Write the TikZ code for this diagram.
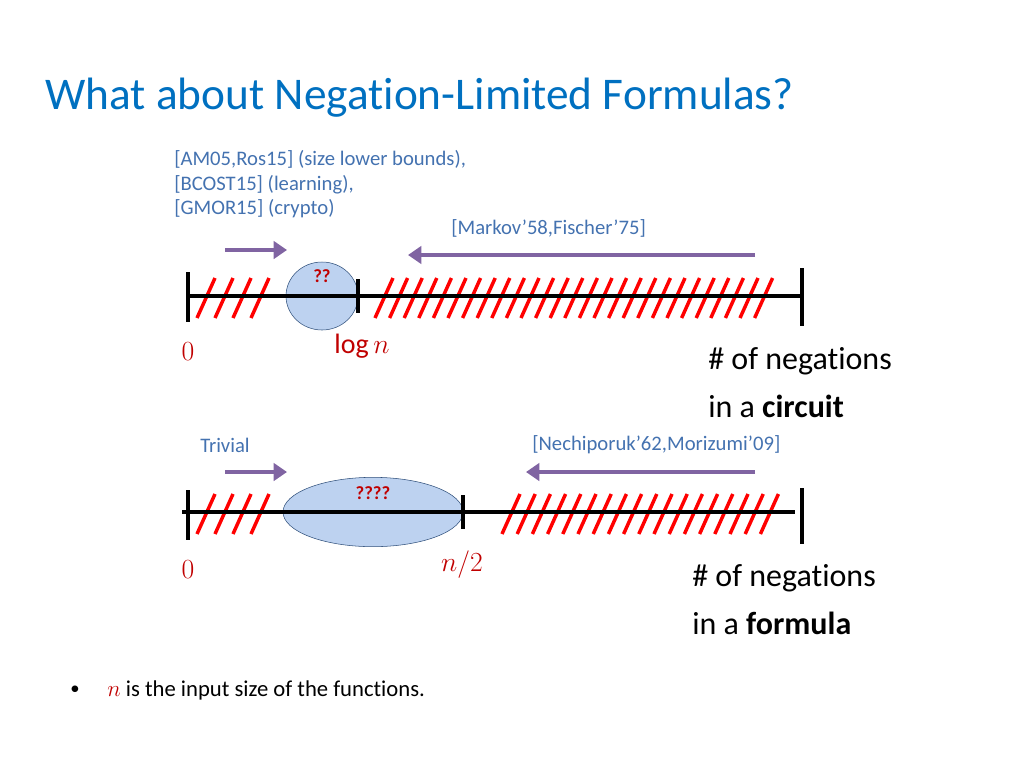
\documentclass[tikz,border=0pt]{standalone}
\usepackage{fontspec}
\setmainfont{Carlito}[Ligatures=NoCommon]
\usetikzlibrary{positioning,shapes.geometric,arrows.meta}
\definecolor{titleblue}{RGB}{0,112,192}
\definecolor{refblue}{RGB}{68,114,176}
\definecolor{arrpurple}{RGB}{128,100,162}
\definecolor{darkred}{RGB}{192,0,0}
\definecolor{bubble}{RGB}{189,210,240}
\begin{document}
\begin{tikzpicture}[x=0.75pt,y=-0.75pt,
    axis/.style={line width=2.6pt, black},
    tick/.style={line width=2.6pt, black},
    hatch/.style={line width=2.6pt, red},
    arr/.style={line width=3pt, arrpurple, -{Triangle[length=10pt,width=13pt]}},
    cite/.style={text=refblue, font=\fontsize{15.5}{18.5}\selectfont, inner sep=0pt},
    big/.style={font=\fontsize{24}{36}\selectfont, inner sep=0pt},
    mathlab/.style={text=darkred, font=\fontsize{21}{26}\selectfont, inner sep=0pt},
    blob/.style={draw=refblue!70!black, fill=bubble, ellipse, inner sep=0pt},
    ]
    \useasboundingbox (0,0) rectangle (1024,768);
    \node[anchor=west, text=titleblue, font=\fontsize{34}{40}\selectfont, inner sep=0pt] (title) at (45,98) {What about Negation-Limited Formulas?};

    % circuit line
    \node[blob, minimum width=54pt, minimum height=51pt] (bc) at (322,296) {};
    \node[text=darkred, font=\bfseries\fontsize{14}{16}\selectfont] (qc) at (322,276) {??};
    \foreach \x in {197,215,233,251} \draw[hatch] (\x,318) -- (\x+18,278);
    \foreach \i in {0,...,26} \draw[hatch] (375+14.6*\i,318) -- (393+14.6*\i,278);
    \coordinate (c0) at (188,296);
    \coordinate (c1) at (802,296);
    \draw[axis] (c0) -- (c1);
    \draw[tick] (188,272) -- (188,322);
    \draw[tick] (358,279) -- (358,313);
    \draw[tick] (802,268) -- (802,326);
    \node[mathlab] (zc) at (188,352) {$0$};
    \node[mathlab] (lc) at (362,346) {$\log n$};

    % formula line
    \node[blob, minimum width=135pt, minimum height=52pt] (bf) at (373,512) {};
    \node[text=darkred, font=\bfseries\fontsize{14}{16}\selectfont] (qf) at (373,493) {????};
    \foreach \x in {197,215,233,251} \draw[hatch] (\x,534) -- (\x+18,494);
    \foreach \i in {0,...,17} \draw[hatch] (502+15.2*\i,534) -- (520+15.2*\i,494);
    \coordinate (f0) at (182,512);
    \coordinate (f1) at (795,512);
    \draw[axis] (f0) -- (f1);
    \draw[tick] (188,490) -- (188,540);
    \draw[tick] (463,495) -- (463,529);
    \draw[tick] (802,488) -- (802,544);
    \node[mathlab] (zf) at (188,570) {$0$};
    \node[mathlab] (nf) at (462,565) {$n/2$};

    % references and arrows
    \node[cite, anchor=north west, align=left] (refl) at (174,150) {[AM05,Ros15] (size lower bounds),\\\relax [BCOST15] (learning),\\\relax [GMOR15] (crypto)};
    \node[cite, anchor=west] (refr) at (451,228) {[Markov'58,Fischer'75]};
    \coordinate (a1s) at (225,250); \coordinate (a1e) at (287,250);
    \coordinate (a2s) at (755,255); \coordinate (a2e) at (408,255);
    \draw[arr] (a1s) -- (a1e);
    \draw[arr] (a2s) -- (a2e);
    \node[cite, anchor=west] (triv) at (200,445) {Trivial};
    \node[cite, anchor=west] (refn) at (532,445) {[Nechiporuk'62,Morizumi'09]};
    \coordinate (a3s) at (225,472); \coordinate (a3e) at (287,472);
    \coordinate (a4s) at (755,472); \coordinate (a4e) at (526,472);
    \draw[arr] (a3s) -- (a3e);
    \draw[arr] (a4s) -- (a4e);

    \node[big, anchor=west, align=left] (negc) at (708,383) {\# of negations\\in a \textbf{circuit}};
    \node[big, anchor=west, align=left] (negf) at (692,600) {\# of negations\\in a \textbf{formula}};

    \node[font=\fontsize{14}{17}\selectfont] (dot) at (75,690) {•};
    \node[anchor=west, font=\fontsize{17}{20}\selectfont, inner sep=0pt] (foot) at (107,690) {\textcolor{darkred}{$n$} is the input size of the functions.};
\end{tikzpicture}
\end{document}
